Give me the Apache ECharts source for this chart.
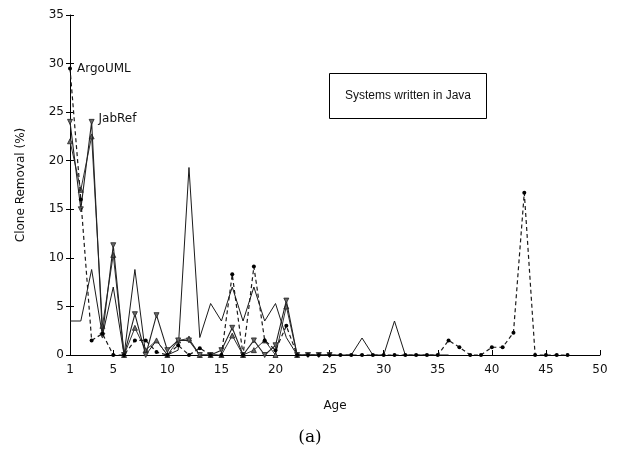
<!DOCTYPE html>
<html>
<head>
<meta charset="utf-8">
<script src="https://cdn.jsdelivr.net/npm/echarts@6/dist/echarts.min.js"></script>
<style>html,body{margin:0;padding:0;background:#fff}#c{width:618px;height:454px}</style>
</head>
<body>
<div id="c"></div>
<script>
// Ages (x) and clone removal (%) per system
const argoAges = [1,2,3,4,5,6,7,8,9,10,11,12,13,14,15,16,17,18,19,20,21,22,23,24,25,26,27,28,29,30,31,32,33,34,35,36,37,38,39,40,41,42,43,44,45,46,47];
const argoVals = [29.5,16,1.5,2.2,0,0,1.5,1.5,0.3,0,1.0,0,0.7,0,0,8.3,0,9.1,1.5,0.5,3.0,0,0,0,0,0,0,0,0,0,0,0,0,0,0,1.5,0.8,0,0,0.8,0.8,2.3,16.7,0,0,0,0];

const jabAges = [1,2,3,4,5,6,7,8,9,10,11,12,13,14,15,16,17,18,19,20,21,22,23,24,25];
const jabVals = [24,15,24,2,11.3,0,4.2,0,4.1,0.5,1.5,1.5,0,0,0.5,2.8,0,1.5,0,1,5.6,0,0,0,0];

const otherAges = [1,2,3,4,5,6,7,8,9,10,11,12,13,14,15,16,17,18,19,20,21,22];
const otherVals = [22,17,22.5,3,10.3,0,2.8,0.5,1.5,0,1.5,1.7,0,0,0,2.0,0,0.5,1.5,0,5,0];

const dnsAges = [1,2,3,4,5,6,7,8,9,10,11,12,13,14,15,16,17,18,19,20,21,22,23,24,25,26,27,28,29,30,31,32,33,34,35,36];
const dnsVals = [3.5,3.5,8.8,2,7,0,8.8,0,1.5,0,0.5,19.3,1.8,5.3,3.5,7,3.5,7,3.5,5.3,1.8,0,0,0,0,0,0,1.75,0,0,3.5,0,0,0,0,0];

const xTicks = [1,5,10,15,20,25,30,35,40,45,50];
const yMin = 0, yMax = 35, yStep = 5;

const lineColor = '#1a1a1a';
function pairs(xs, ys, labelIdx, labelText, lblOpt) {
  return xs.map((x, i) => {
    const d = { value: [x, ys[i]] };
    if (i === labelIdx) {
      d.label = Object.assign({ show: true, formatter: labelText, position: 'right', color: '#111',
        fontFamily: 'DejaVu Sans', fontSize: 12 }, lblOpt || {});
    }
    return d;
  });
}

const chart = echarts.init(document.getElementById('c'), null, { renderer: 'canvas' });
chart.setOption({
  animation: false,
  backgroundColor: '#fff',
  grid: { left: 70, right: 18, top: 15, bottom: 99 },
  xAxis: {
    type: 'value', min: 1, max: 50,
    axisLine: { show: true, onZero: false, lineStyle: { color: '#000', width: 1 } },
    axisTick: { show: true, inside: true, length: 5, customValues: xTicks, lineStyle: { color: '#000' } },
    axisLabel: { customValues: xTicks, color: '#111', fontFamily: 'DejaVu Sans', fontSize: 12, margin: 9 },
    splitLine: { show: false },
    name: 'Age', nameLocation: 'middle', nameGap: 45,
    nameTextStyle: { color: '#111', fontFamily: 'DejaVu Sans', fontSize: 12 }
  },
  yAxis: [{
    type: 'value', min: yMin, max: yMax, interval: yStep,
    axisLine: { show: true, lineStyle: { color: '#000', width: 1 } },
    axisTick: { show: true, length: 4, lineStyle: { color: '#000' } },
    axisLabel: { color: '#111', fontFamily: 'DejaVu Sans', fontSize: 12, margin: 6 },
    splitLine: { show: false },
    name: 'Clone Removal (%)', nameLocation: 'middle', nameGap: 43, nameRotate: 90,
    nameTextStyle: { color: '#111', fontFamily: 'DejaVu Sans', fontSize: 12 }
  }, {
    type: 'value', min: yMin, max: yMax, interval: yStep, position: 'left',
    axisLine: { show: false },
    axisTick: { show: true, inside: true, length: 4, lineStyle: { color: '#000' } },
    axisLabel: { show: false },
    splitLine: { show: false }
  }],
  series: [
    {
      name: 'dnsjava', type: 'line', data: pairs(dnsAges, dnsVals, 11, 'dnsjava', { distance: 4, offset: [0, 3] }),
      symbol: 'none', lineStyle: { color: lineColor, width: 1 }, itemStyle: { color: lineColor },
      z: 2
    },
    {
      name: 'other', type: 'line', data: pairs(otherAges, otherVals, -1, ''),
      symbol: 'triangle', symbolSize: 5,
      lineStyle: { color: '#333', width: 1 }, itemStyle: { color: '#666', borderColor: '#222', borderWidth: 0.8 },
      z: 3
    },
    {
      name: 'JabRef', type: 'line', data: pairs(jabAges, jabVals, 2, 'JabRef', { distance: 4, offset: [0, -3] }),
      symbol: 'triangle', symbolRotate: 180, symbolSize: 5,
      lineStyle: { color: '#222', width: 1.1 }, itemStyle: { color: '#666', borderColor: '#222', borderWidth: 0.8 },
      z: 4
    },
    {
      name: 'ArgoUML', type: 'line', data: pairs(argoAges, argoVals, 0, 'ArgoUML', { distance: 5 }),
      symbol: 'circle', symbolSize: 4,
      lineStyle: { color: lineColor, width: 1.2, type: [4, 3] }, itemStyle: { color: '#000' },
      z: 5
    }
  ],
  graphic: [
    { type: 'rect', shape: { x: 329.5, y: 73.5, width: 157, height: 45 },
      style: { fill: '#fff', stroke: '#000', lineWidth: 1 } },
    { type: 'text', x: 408, y: 96,
      style: { text: 'Systems written in Java', fill: '#111', font: '12px "Liberation Sans"', align: 'center', verticalAlign: 'middle' } },
    { type: 'text', x: 310, y: 438,
      style: { text: '(a)', fill: '#000', font: '17px "DejaVu Serif"', align: 'center', verticalAlign: 'middle' } }
  ]
});
</script>
</body>
</html>
